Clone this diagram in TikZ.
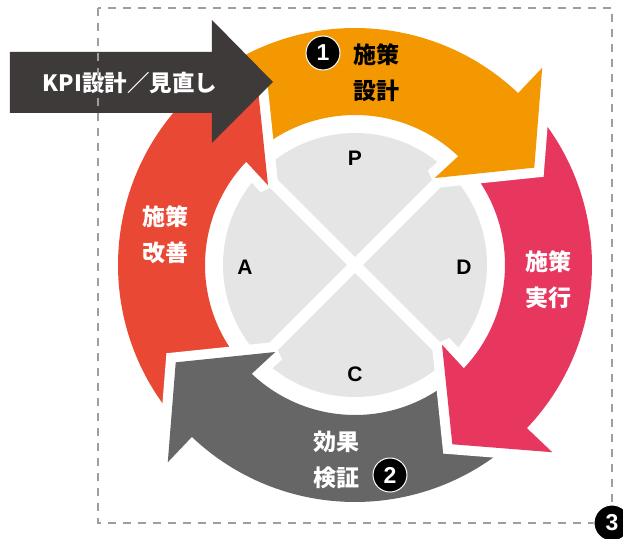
\documentclass[tikz,border=0pt]{standalone}
\usepackage{fontspec}
\newfontfamily\jp{Noto Sans CJK JP}
\setsansfont{Liberation Sans}
\definecolor{cOrange}{HTML}{F39800}
\definecolor{cPink}{HTML}{E8375E}
\definecolor{cRed}{HTML}{E94834}
\definecolor{cGray}{HTML}{666666}
\definecolor{cDark}{HTML}{3E3A39}
\definecolor{cLight}{HTML}{E5E5E5}
\definecolor{cDash}{HTML}{9E9E9E}
\begin{document}
\begin{tikzpicture}[x=1pt,y=1pt,
  arrowshape/.style={insert path={
    (#1+84:150) -- (#1+84:237) arc[start angle=#1+84, end angle=#1, radius=237]
    -- (#1:272) -- (#1-18:204) -- (#1+1:118) -- (#1:150)
    arc[start angle=#1, end angle=#1+84, radius=150] -- cycle}},
  cyc/.style={preaction={draw=white, line width=20pt, line join=miter, miter limit=2}, fill=#1},
  lab/.style={font=\jp\bfseries\fontsize{23}{36}\selectfont, align=center, inner sep=0pt},
  pdca/.style={font=\sffamily\bfseries\fontsize{21}{21}\selectfont, inner sep=0pt},
  num/.style={circle, fill=black, draw=white, line width=1pt, minimum size=34pt, inner sep=0pt,
    text=white, font=\sffamily\bfseries\fontsize{23}{23}\selectfont}]

\useasboundingbox (-355,-273) rectangle (268,265);

% central circle divided into four
\fill[cLight] (0,0) circle (132);
\draw[white, line width=11pt] (135:140) -- (-45:140) (45:140) -- (-135:140);

% cycle arrows
\path[cyc=cRed, arrowshape=136.5];
\path[cyc=cGray, arrowshape=-133.5];
\path[cyc=cPink, arrowshape=-43.5];
\path[cyc=cOrange, arrowshape=46.5];
\begin{scope}
  \clip (-300,0) rectangle (0,300);
  \path[cyc=cRed, arrowshape=136.5];
\end{scope}

% KPI arrow
\fill[cDark] (-345,213) -- (-143,213) -- (-143,245) -- (-82,183) -- (-143,122) -- (-143,152) -- (-345,152) -- cycle;
\node[lab, text=white, font=\jp\bfseries\fontsize{22.5}{22.5}\selectfont] (kpi) at (-225,182) {KPI設計／見直し};

% labels
\node[lab, text=black] (plan) at (21,192) {施策\\設計};
\node[lab, text=white] (do) at (193,-15) {施策\\実行};
\node[lab, text=white] (check) at (-19,-195) {効果\\検証};
\node[lab, text=white] (act) at (-189,30) {施策\\改善};

\node[pdca] (P) at (0,107) {P};
\node[pdca] (A) at (-110,-2) {A};
\node[pdca] (D) at (109,-2) {D};
\node[pdca] (C) at (0,-109) {C};

\node[num] (n1) at (-32,212) {1};
\node[num] (n2) at (35,-210) {2};

% dashed frame
\draw[cDash, line width=1.8pt, dash pattern=on 8pt off 7pt] (-257,257) rectangle (257,-258);
\node[num, minimum size=36pt] (n3) at (257,-258) {3};
\end{tikzpicture}
\end{document}
